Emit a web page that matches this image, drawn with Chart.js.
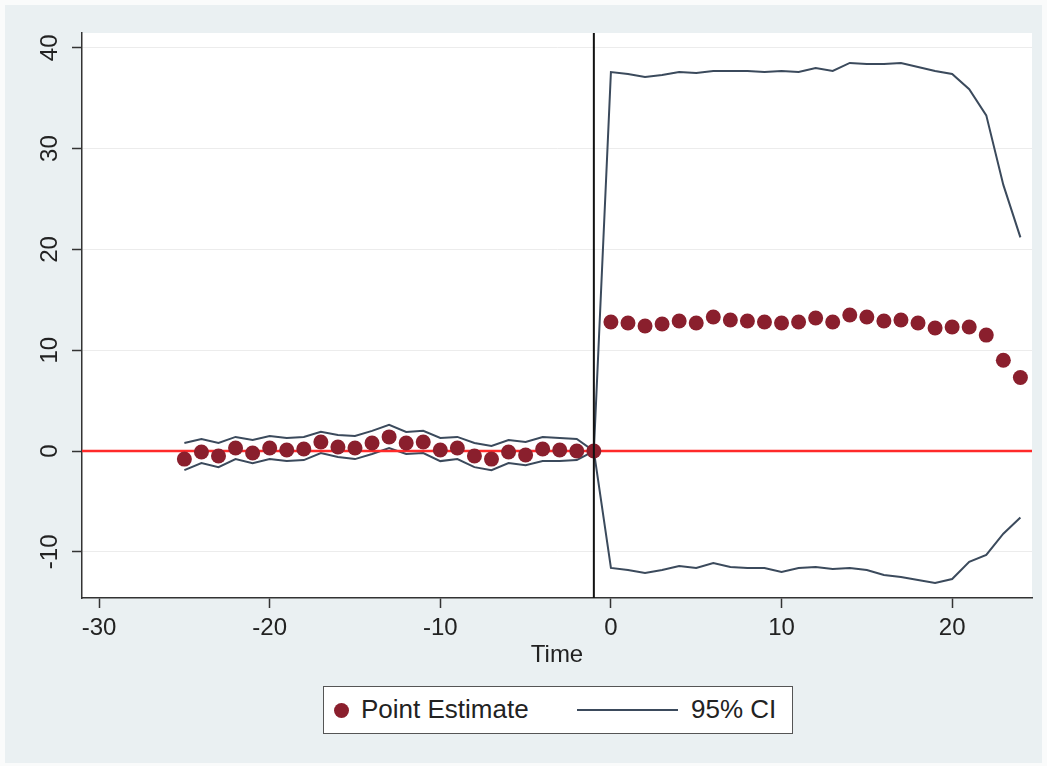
<!DOCTYPE html>
<html>
<head>
<meta charset="utf-8">
<title>Event study</title>
<script src="https://cdn.jsdelivr.net/npm/chart.js@4.4.1/dist/chart.umd.min.js"></script>
<style>
  body { margin: 0; background: #ffffff; font-family: "Liberation Sans", Arial, sans-serif; }
  #wrap { position: relative; width: 1047px; height: 766px; }
  #legend {
    position: absolute; left: 323px; top: 686px; width: 470px; height: 48px;
    background: #fff; border: 1.5px solid #555; box-sizing: border-box;
    font-size: 26px; color: #222;
  }
  #legend .dot { position: absolute; left: 10px; top: 16px; width: 15px; height: 15px; border-radius: 50%; background: #8a1f2d; }
  #legend .t1 { position: absolute; left: 37px; top: 7px; }
  #legend .ln { position: absolute; left: 253px; top: 22px; width: 101px; height: 2px; background: #3b4a5c; }
  #legend .t2 { position: absolute; left: 367px; top: 7px; }
</style>
</head>
<body>
<div id="wrap">
  <canvas id="chart" width="1047" height="766"></canvas>
  <div id="legend">
    <span class="dot"></span><span class="t1">Point Estimate</span>
    <span class="ln"></span><span class="t2">95% CI</span>
  </div>
</div>
<script>
// datos
const time = [-25, -24, -23, -22, -21, -20, -19, -18, -17, -16, -15, -14, -13, -12, -11, -10, -9, -8, -7, -6, -5, -4, -3, -2, -1,
  0, 1, 2, 3, 4, 5, 6, 7, 8, 9, 10, 11, 12, 13, 14, 15, 16, 17, 18, 19, 20, 21, 22, 23, 24];
const pointEst = [-0.8, -0.1, -0.5, 0.3, -0.2, 0.3, 0.1, 0.2, 0.9, 0.4, 0.3, 0.8, 1.4, 0.8, 0.9, 0.1, 0.3, -0.5, -0.8, -0.1, -0.4, 0.2, 0.1, 0.0, 0.0,
  12.8, 12.7, 12.4, 12.6, 12.9, 12.7, 13.3, 13.0, 12.9, 12.8, 12.7, 12.8, 13.2, 12.8, 13.5, 13.3, 12.9, 13.0, 12.7, 12.2, 12.3, 12.3, 11.5, 9.0, 7.3];
const ciUpper = [0.8, 1.2, 0.8, 1.4, 1.1, 1.5, 1.3, 1.4, 1.9, 1.6, 1.5, 2.0, 2.6, 1.9, 2.0, 1.3, 1.4, 0.8, 0.5, 1.1, 0.9, 1.4, 1.3, 1.2, 0.0,
  37.6, 37.4, 37.1, 37.3, 37.6, 37.5, 37.7, 37.7, 37.7, 37.6, 37.7, 37.6, 38.0, 37.7, 38.5, 38.4, 38.4, 38.5, 38.1, 37.7, 37.4, 35.9, 33.3, 26.4, 21.2];
const ciLower = [-1.9, -1.2, -1.6, -0.8, -1.2, -0.8, -1.0, -0.9, -0.2, -0.6, -0.8, -0.3, 0.3, -0.3, -0.2, -1.0, -0.8, -1.6, -1.9, -1.2, -1.4, -1.0, -1.0, -0.9, 0.0,
  -11.6, -11.8, -12.1, -11.8, -11.4, -11.6, -11.1, -11.5, -11.6, -11.6, -12.0, -11.6, -11.5, -11.7, -11.6, -11.8, -12.3, -12.5, -12.8, -13.1, -12.7, -11.0, -10.3, -8.2, -6.6];

const xTicks = [-30, -20, -10, 0, 10, 20];
const yTicks = [-10, 0, 10, 20, 30, 40];
const xRange = [-31.0, 24.68];
const yRange = [-14.58, 41.47];
const refX = -1;   // periodo de referencia
const refY = 0;

const colPoint = '#8a1f2d';
const colCI = '#3b4a5c';
const colAxis = '#333';
const tickFont = { family: '"Liberation Sans", Arial, sans-serif', size: 24 };

const xy = (ys) => time.map((t, i) => ({ x: t, y: ys[i] }));

// fondo estilo Stata
const bgPlugin = {
  id: 'bg',
  beforeDraw(chart) {
    const { ctx, chartArea: a } = chart;
    ctx.save();
    ctx.fillStyle = '#fafbfb';
    ctx.fillRect(0, 0, chart.width, chart.height);
    ctx.fillStyle = '#eaf0f2';
    ctx.fillRect(5, 5, chart.width - 10, chart.height - 8);
    ctx.fillStyle = '#ffffff';
    ctx.fillRect(a.left, a.top, a.right - a.left, a.bottom - a.top);
    ctx.restore();
  }
};

new Chart(document.getElementById('chart').getContext('2d'), {
  type: 'scatter',
  data: {
    datasets: [
      {
        label: 'Point Estimate', data: xy(pointEst), order: 2,
        backgroundColor: colPoint, borderColor: colPoint, pointRadius: 7.5, borderWidth: 0
      },
      {
        label: '95% CI upper', data: xy(ciUpper), type: 'line', order: 4,
        borderColor: colCI, borderWidth: 2, pointRadius: 0, fill: false, tension: 0
      },
      {
        label: '95% CI lower', data: xy(ciLower), type: 'line', order: 4,
        borderColor: colCI, borderWidth: 2, pointRadius: 0, fill: false, tension: 0
      },
      {
        label: 'zero', data: [{ x: xRange[0], y: refY }, { x: xRange[1], y: refY }], type: 'line', order: 3,
        borderColor: '#ff2a2a', borderWidth: 2.5, pointRadius: 0
      },
      {
        label: 'ref', data: [{ x: refX, y: yRange[0] }, { x: refX, y: yRange[1] }], type: 'line', order: 1,
        borderColor: '#111', borderWidth: 2, pointRadius: 0
      }
    ]
  },
  options: {
    responsive: false,
    animation: false,
    events: [],
    layout: { padding: { left: 0, top: 33, right: 15, bottom: 96 } },
    plugins: { legend: { display: false }, tooltip: { enabled: false } },
    scales: {
      x: {
        type: 'linear', min: xRange[0], max: xRange[1],
        afterBuildTicks: s => { s.ticks = xTicks.map(v => ({ value: v })); },
        afterFit: s => { s.height = 72; },
        ticks: { font: tickFont, color: '#222', padding: 6, maxRotation: 0 },
        grid: { drawOnChartArea: false, tickLength: 10, tickColor: colAxis, tickWidth: 1.5 },
        border: { color: colAxis, width: 1.5 },
        title: { display: true, text: 'Time', font: tickFont, color: '#222', padding: 0 }
      },
      y: {
        type: 'linear', min: yRange[0], max: yRange[1],
        afterBuildTicks: s => { s.ticks = yTicks.map(v => ({ value: v })); },
        afterFit: s => { s.width = 82; },
        ticks: { font: tickFont, color: '#222', minRotation: 90, maxRotation: 90, crossAlign: 'center', padding: 4 },
        grid: { color: '#ececec', lineWidth: 1, tickLength: 10, tickColor: colAxis, tickWidth: 1.5 },
        border: { color: colAxis, width: 1.5 }
      }
    }
  },
  plugins: [bgPlugin]
});
</script>
</body>
</html>
